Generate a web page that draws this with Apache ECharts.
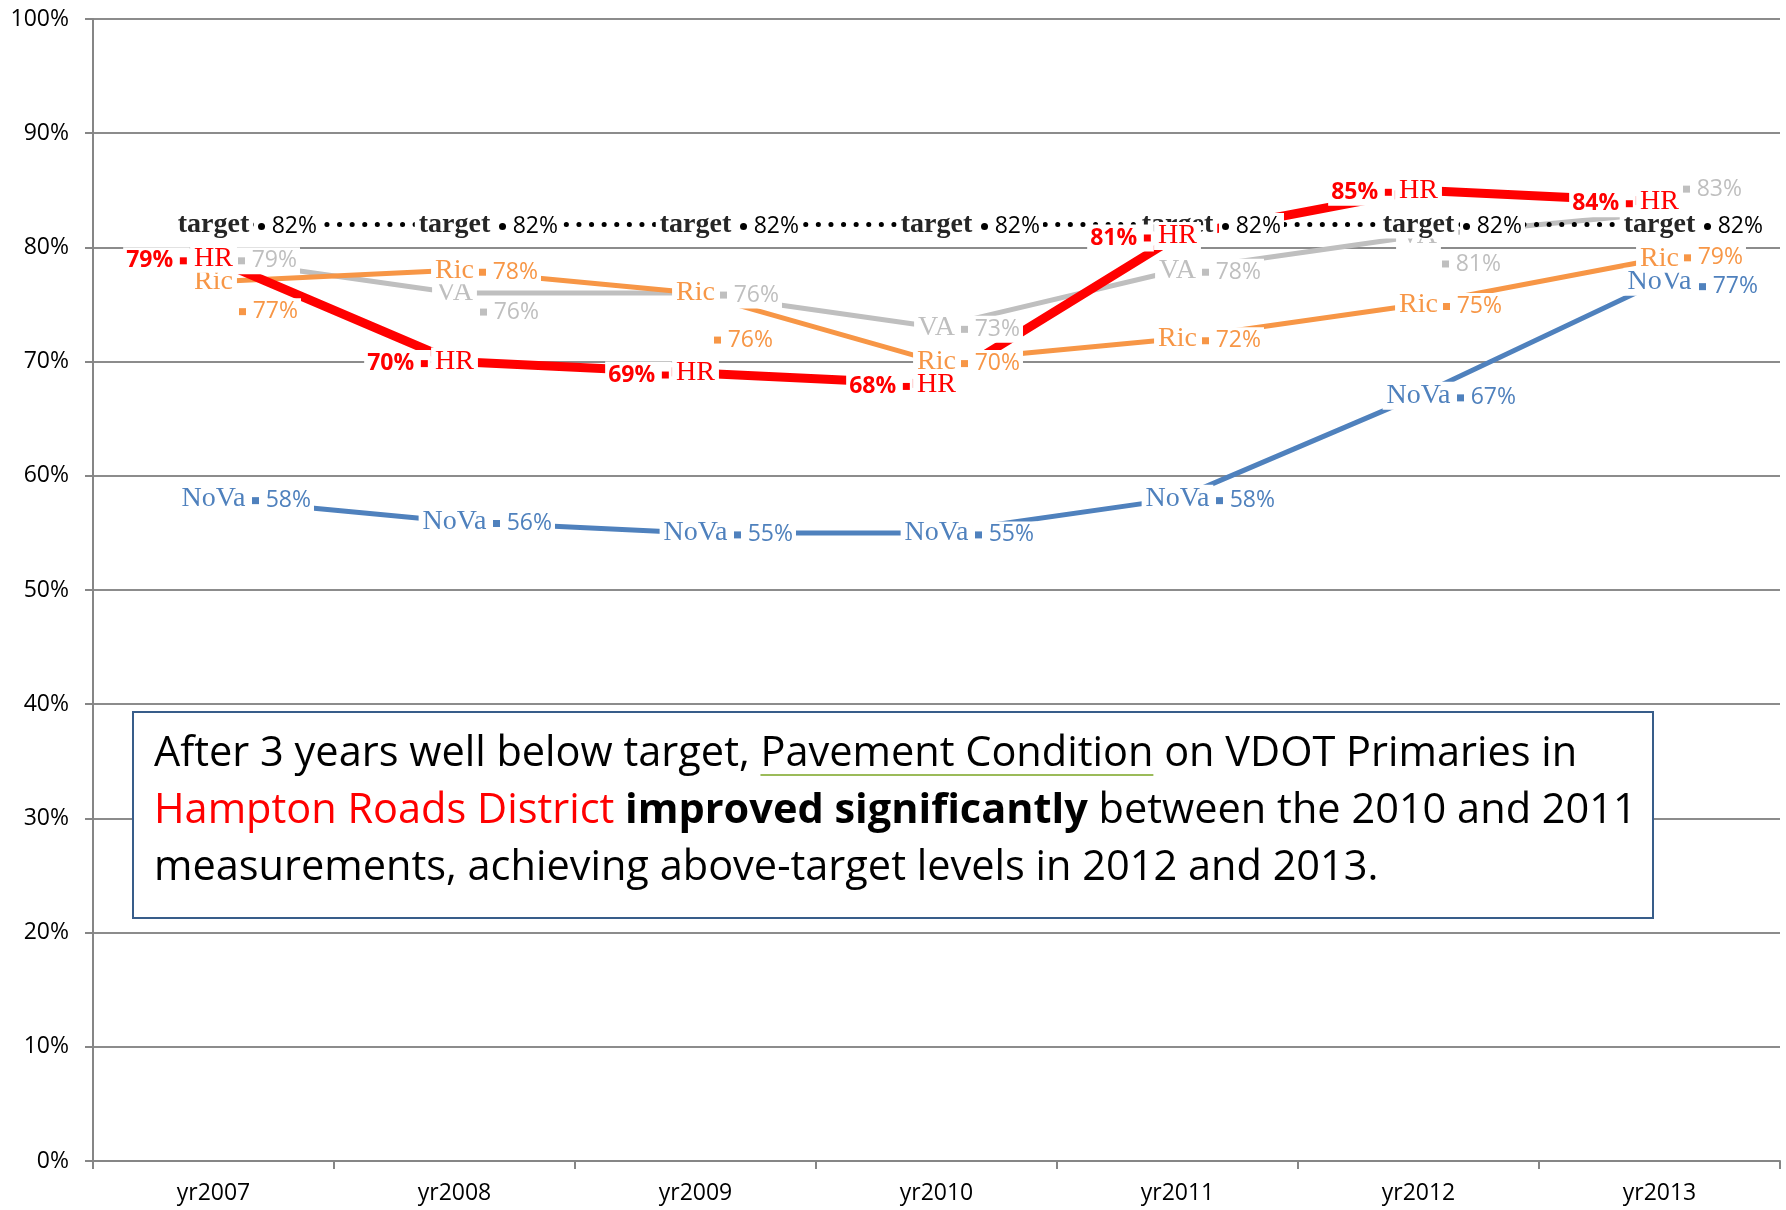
<!DOCTYPE html>
<html>
<head>
<meta charset="utf-8">
<script src="https://cdn.jsdelivr.net/npm/echarts@6/dist/echarts.min.js"></script>
<style>
  html, body { margin: 0; padding: 0; background: #fff; }
  #chart { width: 1786px; height: 1210px; }
</style>
</head>
<body>
<div id="chart"></div>
<script>
// values (percent)
const years = ['yr2007', 'yr2008', 'yr2009', 'yr2010', 'yr2011', 'yr2012', 'yr2013']
const target = [82, 82, 82, 82, 82, 82, 82]
const hr = [79, 70, 69, 68, 81, 85, 84]
const va = [79, 76, 76, 73, 78, 81, 83]
const ric = [77, 78, 76, 70, 72, 75, 79]
const nova = [58, 56, 55, 55, 58, 67, 77]

// series look; z decides which labels sit on top
const lines = [
  { name: 'NoVa', data: nova, color: '#4f81bd', width: 5, z: 10, valDx: 77 },
  { name: 'VA', data: va, color: '#bfbfbf', width: 5, z: 11, valDx: 63 },
  { name: 'Ric', data: ric, color: '#f79646', width: 5, z: 12, valDx: 63 },
  { name: 'target', data: target, color: '#000000', width: 5, z: 13, valDx: 83, dotted: true },
  { name: 'HR', data: hr, color: '#ff0000', width: 9, z: 14, valDx: -66, bold: true }
]

// value labels that Excel pushed off their usual spot
const valueMoved = {
  'Ric-0': [64, 30],
  'VA-1': [64, 19],
  'Ric-2': [57, 47],
  'VA-5': [62, 28],
  'VA-6': [62, -24],
  'Ric-6': [63, -1],
  'NoVa-6': [78, 5]
}

const SANS = '"Open Sans", "Noto Sans", sans-serif'
const SERIF = '"Liberation Serif", "DejaVu Serif", serif'
const NONE = 'rgba(0,0,0,0)'

const chart = echarts.init(document.getElementById('chart'))

const series = []
lines.forEach(s => {
  series.push({
    name: s.name,
    type: 'line',
    data: s.data,
    symbol: 'none',
    silent: true,
    z: s.name === 'HR' ? 4 : (s.dotted ? 3 : 2),
    lineStyle: s.dotted
      ? { color: s.color, width: s.width, type: [0.1, 12.5], cap: 'round' }
      : { color: s.color, width: s.width }
  })
})

lines.forEach(s => {
  // series name sitting on the point
  series.push({
    name: s.name + ' name',
    type: 'scatter',
    data: s.data.map((v, i) => [i, v]),
    symbolSize: 2,
    itemStyle: { color: NONE, opacity: 1 },
    silent: true,
    z: s.z,
    label: {
      show: true,
      position: 'inside',
      formatter: () => s.name,
      fontFamily: SERIF,
      fontSize: 28,
      fontWeight: s.dotted ? 'bold' : 'normal',
      color: s.dotted ? '#262626' : s.color,
      backgroundColor: '#fff',
      padding: [0, 4],
      lineHeight: 28
    }
  })
  // value with the little legend key
  const keyRight = s.valDx < 0
  series.push({
    name: s.name + ' value',
    type: 'scatter',
    data: s.data.map((v, i) => {
      const m = valueMoved[s.name + '-' + i]
      const dx = m ? m[0] : s.valDx
      const dy = m ? m[1] : 2
      return { value: [i, v], label: { offset: [keyRight ? dx + 9 : dx - 9, dy] } }
    }),
    symbolSize: 2,
    itemStyle: { color: NONE, opacity: 1 },
    silent: true,
    z: s.z,
    label: {
      show: true,
      position: 'inside',
      formatter: p => keyRight
        ? '{v|' + p.value[1] + '%}  {k| }'
        : '{k| }  {v|' + p.value[1] + '%}',
      backgroundColor: '#fff',
      padding: [0, 3],
      rich: {
        v: {
          fontFamily: SANS,
          fontSize: 23,
          fontWeight: s.bold ? 'bold' : 'normal',
          color: s.color,
          lineHeight: 27
        },
        k: {
          width: 7,
          height: 7,
          backgroundColor: s.color,
          borderRadius: s.dotted ? 3.5 : 0
        }
      }
    }
  })
})

// annotation text, sized to the box like the original
const measure = document.createElement('canvas').getContext('2d')
function textWidth (str, size, bold) {
  measure.font = (bold ? 'bold ' : '') + size + 'px ' + SANS
  return measure.measureText(str).width
}
const line1 = 'After 3 years well below target, Pavement Condition on VDOT Primaries in'
const line2w = s => textWidth('Hampton Roads District ', s) + textWidth('improved significantly', s, true) +
  textWidth(' between the 2010 and 2011', s)
const fit1 = 40 * 1439 / textWidth(line1, 40)
const fit2 = 40 * 1468 / line2w(40)
const noteSize = Math.floor((fit1 + fit2) / 2 * 10) / 10
const noteX = 154
const ulStart = noteX + textWidth('After 3 years well below target, ', noteSize)
const ulEnd = ulStart + textWidth('Pavement Condition', noteSize)

const option = {
  animation: false,
  grid: { left: 93, right: 6, top: 19, bottom: 49, containLabel: false },
  xAxis: {
    type: 'category',
    data: years,
    boundaryGap: true,
    axisLine: { lineStyle: { color: '#868686', width: 2 } },
    axisTick: { show: true, length: 8, lineStyle: { color: '#868686', width: 2 } },
    axisLabel: { fontFamily: SANS, fontSize: 23, color: '#000', margin: 21 }
  },
  yAxis: {
    type: 'value',
    min: 0,
    max: 100,
    interval: 10,
    axisLine: { show: true, lineStyle: { color: '#868686', width: 2 } },
    axisTick: { show: true, length: 8, lineStyle: { color: '#868686', width: 2 } },
    axisLabel: { formatter: '{value}%', fontFamily: SANS, fontSize: 23, color: '#000', margin: 24 },
    splitLine: { lineStyle: { color: '#8c8c8c', width: 2 } }
  },
  series: series,
  graphic: [
    {
      type: 'rect',
      z: 100,
      shape: { x: 133, y: 712, width: 1520, height: 206 },
      style: { fill: '#fff', stroke: '#385d8a', lineWidth: 2 }
    },
    {
      type: 'text',
      z: 101,
      x: noteX,
      y: 726,
      style: {
        text: line1 + '\n' +
          '{r|Hampton Roads District} {b|improved significantly} between the 2010 and 2011\n' +
          'measurements, achieving above-target levels in 2012 and 2013.',
        font: noteSize + 'px ' + SANS,
        fill: '#000',
        lineHeight: 57,
        verticalAlign: 'top',
        rich: {
          r: { fill: '#ff0000', fontSize: noteSize, fontFamily: SANS, lineHeight: 57 },
          b: { fontWeight: 'bold', fontSize: noteSize, fontFamily: SANS, lineHeight: 57 }
        }
      }
    },
    {
      type: 'line',
      z: 102,
      shape: { x1: ulStart, y1: 775, x2: ulEnd, y2: 775 },
      style: { stroke: '#9bbb59', lineWidth: 2 }
    }
  ]
}

chart.setOption(option)
</script>
</body>
</html>
